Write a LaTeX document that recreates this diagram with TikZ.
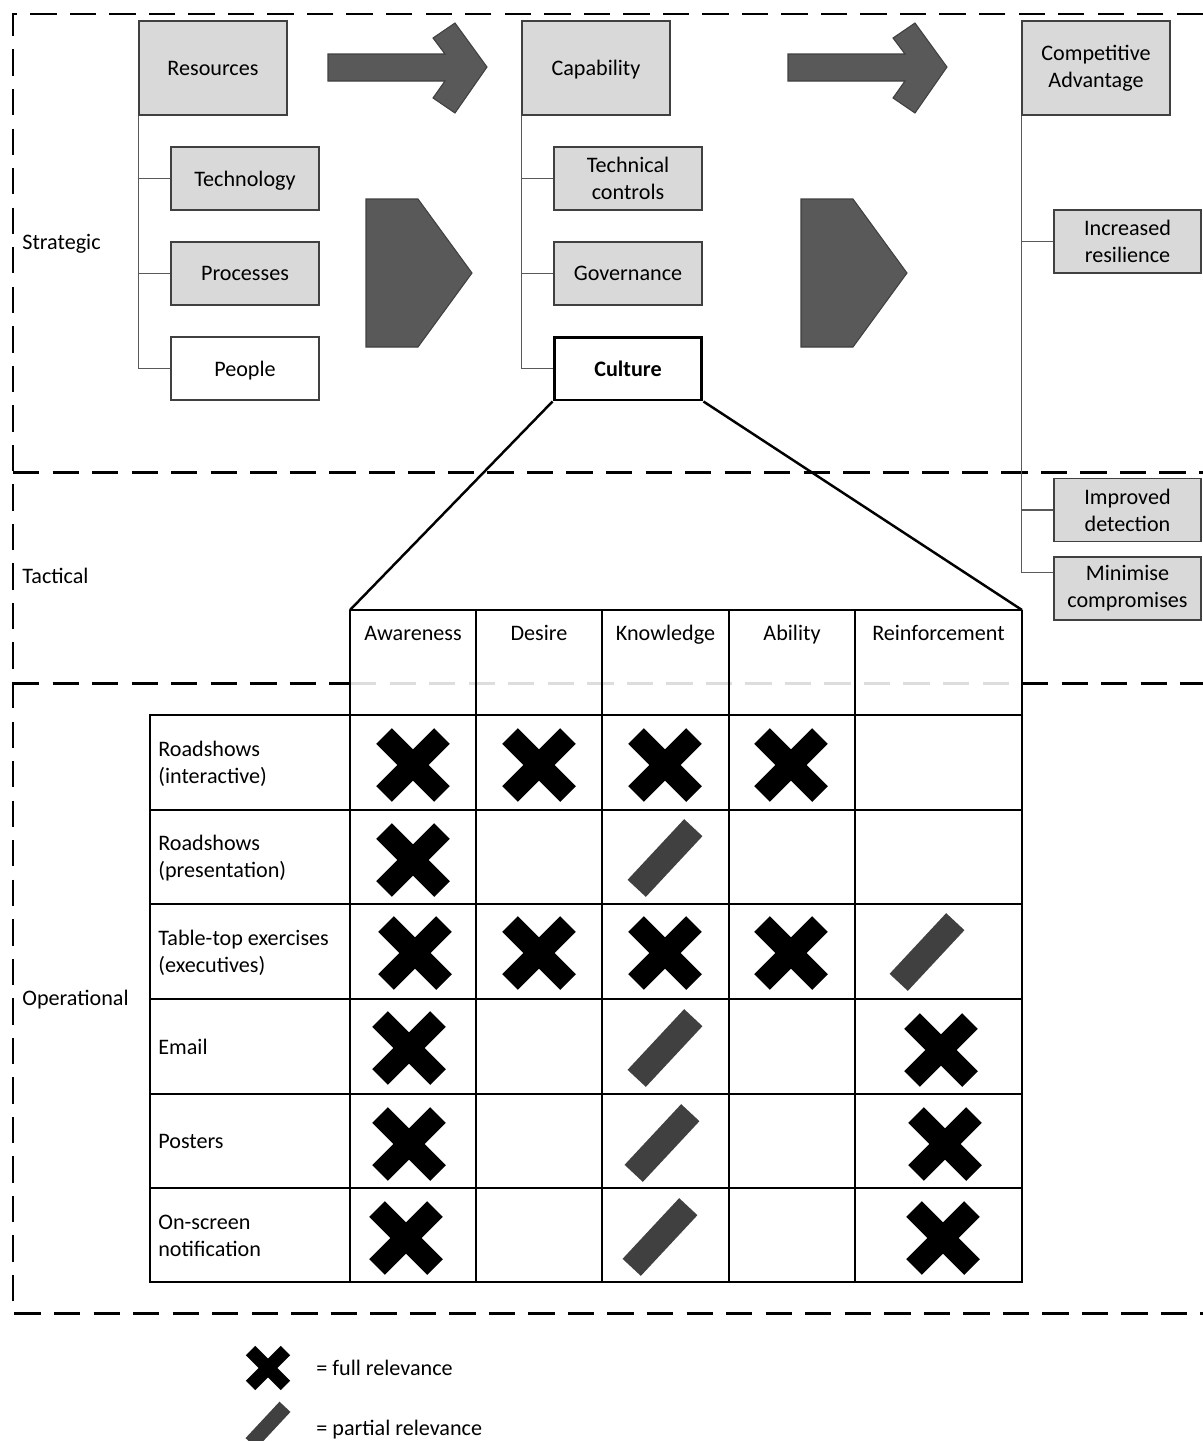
\documentclass[tikz,border=0pt]{standalone}
\usepackage{fontspec}
\setmainfont{Carlito}
\usetikzlibrary{positioning,calc}

\definecolor{boxgrey}{HTML}{D9D9D9}
\definecolor{arrowgrey}{HTML}{595959}
\definecolor{edgegrey}{HTML}{404040}
\definecolor{slashgrey}{HTML}{404040}
\definecolor{faintgrey}{HTML}{DDDDDD}

\begin{document}
\begin{tikzpicture}[x=0.02cm, y=-0.02cm,
                    every node/.style = {font=\fontsize{12.6}{15.3}\selectfont},
                    every block/.style = {fill=boxgrey},
                    block/.style = {rectangle, draw=edgegrey, line width=0.85pt, minimum width=2.96cm, align=center, inner sep=1pt, every block},
                    main block/.style = {block, minimum height=1.88cm},
                    sub block/.style = {block, minimum height=1.26cm},
                    plain block/.style = {sub block, fill=white},
                    focus block/.style = {sub block, fill=white, draw=black, line width=1.7pt, font=\fontsize{12.6}{15.3}\selectfont\bfseries},
                    branch/.style = {draw=black!65, line width=0.7pt},
                    lane/.style = {draw=black, line width=1.7pt, dash pattern=on 15pt off 7.5pt},
                    faint lane/.style = {lane, draw=faintgrey},
                    lane label/.style = {anchor=west, inner sep=0pt, text depth=0pt},
                    big arrow/.style = {fill=arrowgrey, draw=edgegrey, line width=0.6pt},
                    funnel/.style = {draw=black, line width=1.4pt},
                    cell line/.style = {draw=black, line width=0.75pt},
                    table frame/.style = {draw=black, line width=1.4pt},
                    head/.style = {anchor=base, inner sep=0pt},
                    row label/.style = {anchor=west, align=left, inner sep=0pt},
                    full mark/.pic = {\fill[black, rotate=45] (11,11) -- (41,11) -- (41,-11) -- (11,-11) -- (11,-41) -- (-11,-41) -- (-11,-11) -- (-41,-11) -- (-41,11) -- (-11,11) -- (-11,41) -- (11,41) -- cycle;},
                    part mark/.pic = {\fill[slashgrey, rotate=47] (-41.5,-12.5) -- (41.5,-12.5) -- (41.5,12.5) -- (-41.5,12.5) -- cycle;} ]

                \useasboundingbox (0,0) rectangle (1203,1441);

                % lanes
                \draw [lane] (1203,14) -- (13,14) -- (13,1313) -- (1203,1313);
                \draw [lane] (13,472) -- (1203,472);
                \draw [lane] (13,683) -- (350,683);
                \draw [faint lane] (350,683) -- (1022,683);
                \draw [lane] (1022,683) -- (1203,683);
                \node [lane label] (strategic) at (22,242) {Strategic};
                \node [lane label] (tactical) at (22,576) {Tactical};
                \node [lane label] (operational) at (22,998) {Operational};

                % resources
                \node [main block] (res) at (213,68) {Resources};
                \node [sub block, text depth=0pt] (tech) at (245,178.5) {Technology};
                \node [sub block] (proc) at (245,273.5) {Processes};
                \node [plain block, text depth=0pt] (people) at (245,368.5) {People};
                \draw [branch] (res.south west) |- (tech.west);
                \draw [branch] (res.south west) |- (proc.west);
                \draw [branch] (res.south west) |- (people.west);

                % capability
                \node [main block, text depth=0pt] (cap) at (596,68) {Capability};
                \node [sub block] (techctl) at (628,178.5) {Technical\\controls};
                \node [sub block, text depth=0pt] (gov) at (628,273.5) {Governance};
                \node [focus block] (cult) at (628,368.5) {Culture};
                \draw [branch] (cap.south west) |- (techctl.west);
                \draw [branch] (cap.south west) |- (gov.west);
                \draw [branch] (cap.south west) |- (cult.west);

                % competitive advantage
                \node [main block] (comp) at (1096,68) {Competitive\\Advantage};
                \node [sub block, minimum width=2.94cm] (resil) at (1127.5,241.5) {Increased\\resilience};
                \node [sub block, minimum width=2.94cm] (detect) at (1127.5,510) {Improved\\detection};
                \node [sub block, minimum width=2.94cm] (minim) at (1127.5,588.5) {Minimise\\compromises};
                \draw [branch] (comp.south west) |- (resil.west);
                \draw [branch] (comp.south west) |- (detect.west);
                \draw [branch] (comp.south west) |- ($(minim.north west)!.25!(minim.south west)$);

                % arrows
                \draw [big arrow] (328,54) -- (445,54) -- (433,38) -- (455,23) -- (487,67) -- (455,113) -- (433,98) -- (445,81) -- (328,81) -- cycle;
                \draw [big arrow] (788,54) -- (905,54) -- (893,38) -- (915,23) -- (947,67) -- (915,113) -- (893,98) -- (905,81) -- (788,81) -- cycle;
                \draw [big arrow] (366,199) -- (418,199) -- (472,273) -- (418,347) -- (366,347) -- cycle;
                \draw [big arrow] (801,199) -- (853,199) -- (907,273) -- (853,347) -- (801,347) -- cycle;

                % culture table
                \coordinate (tabNW) at (350,610);
                \coordinate (tabNE) at (1022,610);
                \draw [funnel] (cult.south west) -- (tabNW);
                \draw [funnel] (cult.south east) -- (tabNE);
                \draw [cell line] (tabNW) -- (tabNE);
                \draw [cell line] (350,715) -- (1022,715);
                \draw [cell line] (150,810) -- (1022,810);
                \draw [cell line] (150,904) -- (1022,904);
                \draw [cell line] (150,999) -- (1022,999);
                \draw [cell line, line width=1.1pt] (150,1094) -- (1022,1094);
                \draw [cell line] (150,1188) -- (1022,1188);
                \draw [cell line] (350,715) -- (350,1282);
                \draw [cell line] (476,610) -- (476,1282);
                \draw [cell line] (602,610) -- (602,1282);
                \draw [cell line] (729,610) -- (729,1282);
                \draw [cell line] (855,610) -- (855,1282);
                \draw [table frame] (tabNW) -- (350,715) -- (150,715) -- (150,1282) -- (1022,1282) -- (tabNE);

                \node [head] (hAware) at (413,640) {Awareness};
                \node [head] (hDesire) at (539,640) {Desire};
                \node [head] (hKnow) at (665.5,640) {Knowledge};
                \node [head] (hAbility) at (792,640) {Ability};
                \node [head] (hReinf) at (938.5,640) {Reinforcement};

                \node [row label] (rInter) at (158,763.5) {Roadshows\\(interactive)};
                \node [row label] (rPres) at (158,858) {Roadshows\\(presentation)};
                \node [row label] (rTable) at (158,952.5) {Table-top exercises\\(executives)};
                \node [row label, text depth=0pt] (rEmail) at (158,1047) {Email};
                \node [row label] (rPoster) at (158,1141) {Posters};
                \node [row label] (rScreen) at (158,1236) {On-screen\\notification};

                % marks
                \pic at (413,765) {full mark};
                \pic at (539,765) {full mark};
                \pic at (665,765) {full mark};
                \pic at (791,765) {full mark};
                \pic at (413,860) {full mark};
                \pic at (665,858) {part mark};
                \pic at (415,953) {full mark};
                \pic at (539,953) {full mark};
                \pic at (665,953) {full mark};
                \pic at (791,953) {full mark};
                \pic at (927,952) {part mark};
                \pic at (409,1048) {full mark};
                \pic at (665,1048) {part mark};
                \pic at (941,1050) {full mark};
                \pic at (409,1144) {full mark};
                \pic at (662,1143) {part mark};
                \pic at (945,1144) {full mark};
                \pic at (406,1238) {full mark};
                \pic at (660,1237) {part mark};
                \pic at (943,1238) {full mark};

                % legend
                \pic [scale=0.6] at (268,1368) {full mark};
                \node [lane label] (fullkey) at (316,1368) {= full relevance};
                \pic [scale=0.6] at (268,1425) {part mark};
                \node [lane label] (partkey) at (316,1428) {= partial relevance};

            \end{tikzpicture}
\end{document}
